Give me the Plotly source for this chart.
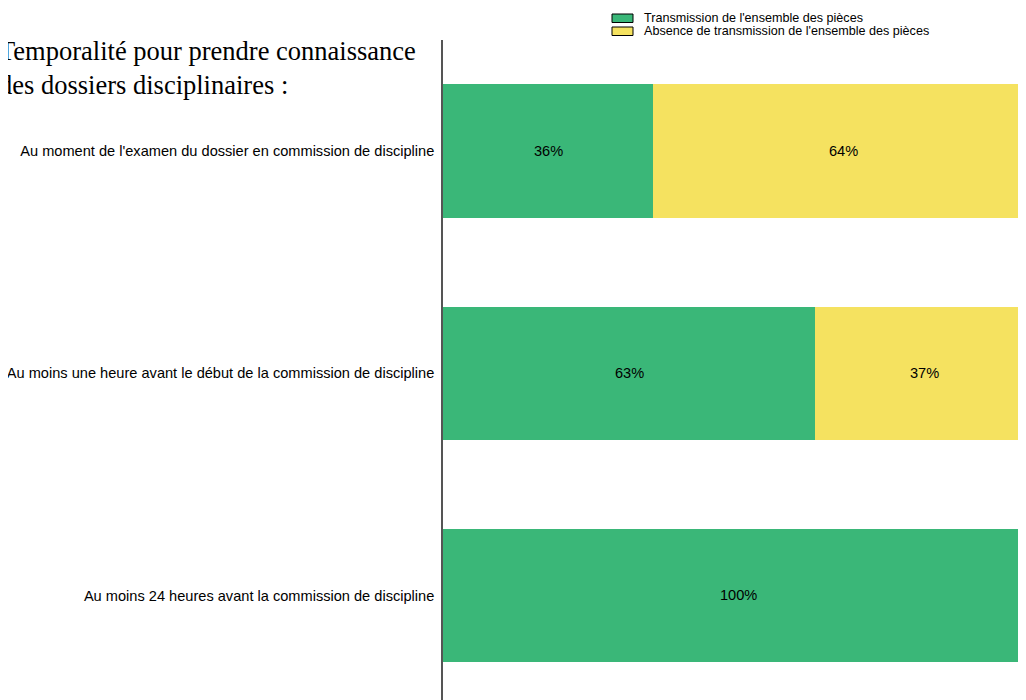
import plotly.graph_objects as go

categories = [
    "Au moment de l'examen du dossier en commission de discipline",
    "Au moins une heure avant le début de la commission de discipline",
    "Au moins 24 heures avant la commission de discipline",
]
transmission = [35.6, 63.05, 100.0]
absence = [64.4, 36.95, 0.0]
transmission_labels = ["36%", "63%", "100%"]
absence_labels = ["64%", "37%", ""]
series_names = ["Transmission de l'ensemble des pièces",
                "Absence de transmission de l'ensemble des pièces"]
title_text = "Temporalité pour prendre connaissance<br>des dossiers disciplinaires :"

GREEN = "#3AB778"
YELLOW = "#F5E260"
SANS = "Liberation Sans, Arial"

# screen-pixel helpers (page has an 8px body margin; plot area spans x 443-1026, y 40-700)
def px(sx):
    return (sx - 443) / 583

def py(sy):
    return (700 - sy) / 660

fig = go.Figure()
fig.add_trace(go.Bar(
    y=categories, x=transmission, orientation="h", name=series_names[0],
    marker=dict(color=GREEN, line=dict(width=0)),
    width=0.6, showlegend=False, hoverinfo="x+y",
))
fig.add_trace(go.Bar(
    y=categories, x=absence, orientation="h", name=series_names[1],
    marker=dict(color=YELLOW, line=dict(width=0)),
    width=0.6, showlegend=False, hoverinfo="x+y",
))

# value labels centred on each (unclipped) segment
for cat, t, a, tl, al in zip(categories, transmission, absence, transmission_labels, absence_labels):
    if tl:
        fig.add_annotation(x=t / 2, y=cat, xref="x", yref="y", text=tl, showarrow=False,
                           font=dict(family=SANS, size=14.6, color="black"))
    if al:
        fig.add_annotation(x=t + a / 2, y=cat, xref="x", yref="y", text=al, showarrow=False,
                           font=dict(family=SANS, size=14.6, color="black"))

fig.update_layout(
    barmode="stack",
    width=1018, height=692,
    margin=dict(l=435, r=0, t=32, b=0, pad=0),
    paper_bgcolor="white", plot_bgcolor="white",
    xaxis=dict(range=[0, 98.81], visible=False, showgrid=False, zeroline=False,
               fixedrange=True, automargin=False),
    yaxis=dict(type="category", categoryorder="array", categoryarray=categories,
               range=[2.4707, -0.5], showline=True, linecolor="#555555", linewidth=1.5,
               ticks="", showgrid=False, zeroline=False, ticklabelstandoff=4,
               automargin=False,
               tickfont=dict(family=SANS, size=14.6, color="black")),
)

# Title (starts slightly off the left edge, as in the reference)
fig.add_annotation(
    text=title_text, xref="paper", yref="paper", x=px(-2.5), y=1.0, yshift=6.5,
    xanchor="left", yanchor="top", align="left", showarrow=False,
    font=dict(family="Liberation Serif, Times New Roman", size=26.5, color="black"),
)

# Manual legend
legend_colors = [GREEN, YELLOW]
for i, (nm, col) in enumerate(zip(series_names, legend_colors)):
    top = 14 + i * 13
    fig.add_shape(type="rect", xref="paper", yref="paper",
                  x0=px(612), x1=px(633), y0=py(top), y1=py(top + 8.5),
                  fillcolor=col, line=dict(color="black", width=1))
    fig.add_annotation(text=nm, xref="paper", yref="paper",
                       x=px(642), y=py(top + 4.25),
                       xanchor="left", yanchor="middle", showarrow=False,
                       font=dict(family=SANS, size=12.6, color="black"))

fig.write_html("out.html")
